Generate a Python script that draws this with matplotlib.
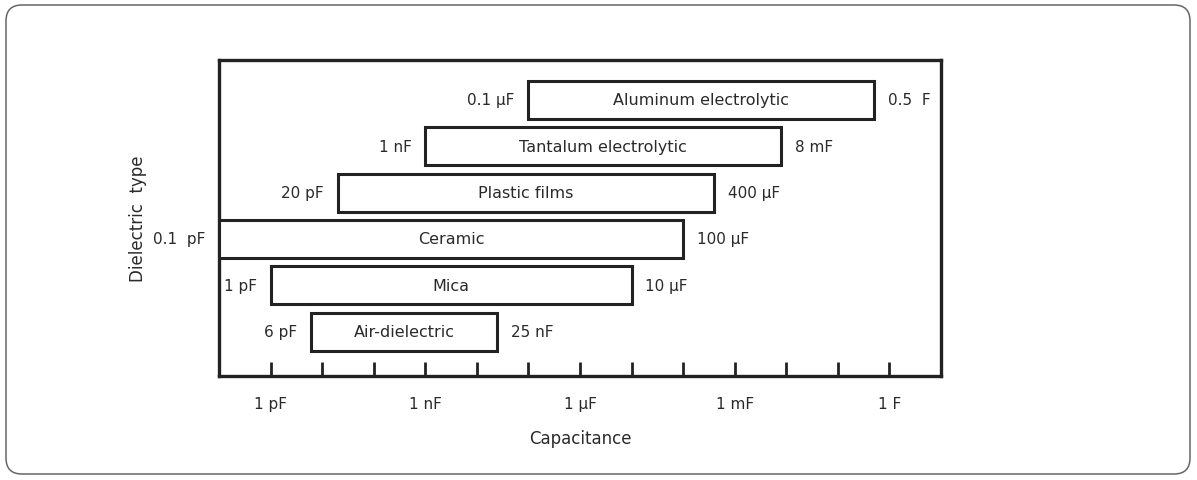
import matplotlib
matplotlib.use("Agg")
import matplotlib.pyplot as plt
from matplotlib.patches import FancyBboxPatch
from matplotlib import font_manager

# dielectric types, bottom to top
names = ["Air-dielectric", "Mica", "Ceramic", "Plastic films",
         "Tantalum electrolytic", "Aluminum electrolytic"]
low = [6e-12, 1e-12, 1e-13, 20e-12, 1e-9, 0.1e-6]
high = [25e-9, 10e-6, 100e-6, 400e-6, 8e-3, 0.5]
low_txt = ["6 pF", "1 pF", "0.1  pF", "20 pF", "1 nF", "0.1 \u00b5F"]
high_txt = ["25 nF", "10 \u00b5F", "100 \u00b5F", "400 \u00b5F", "8 mF", "0.5  F"]

tick_vals = [1e-12, 1e-9, 1e-6, 1e-3, 1]
tick_txt = ["1 pF", "1 nF", "1 \u00b5F", "1 mF", "1 F"]

names_installed = {f.name for f in font_manager.fontManager.ttflist}
fam = "Liberation Sans Narrow" if "Liberation Sans Narrow" in names_installed else "DejaVu Sans"
plt.rcParams["font.family"] = [fam, "DejaVu Sans"]
plt.rcParams["font.size"] = 11
ink = "#222222"
txt = "#2a2a2a"

fig = plt.figure(figsize=(11.97, 4.81), dpi=100)
ax = fig.add_axes([0.183, 0.216, 0.603, 0.657])

# rounded frame around everything (inch units)
frame = FancyBboxPatch((0.06, 0.06), 11.84, 4.69,
                       boxstyle="round,pad=0,rounding_size=0.16",
                       transform=fig.dpi_scale_trans, fill=False,
                       edgecolor="#666666", linewidth=1.1)
fig.patches.append(frame)

bar_h = 0.82
for i, nm in enumerate(names):
    ax.barh(i, high[i] - low[i], left=low[i], height=bar_h,
            facecolor="white", edgecolor=ink, linewidth=2.2, zorder=3)
    ax.text((low[i] * high[i]) ** 0.5, i, nm, ha="center", va="center",
            color=txt, fontsize=11.5, zorder=4)
    ax.annotate(low_txt[i], (low[i], i), xytext=(-10, 0),
                textcoords="offset points", ha="right", va="center",
                color=txt, fontsize=11, annotation_clip=False)
    ax.annotate(high_txt[i], (high[i], i), xytext=(10, 0),
                textcoords="offset points", ha="left", va="center",
                color=txt, fontsize=11)

ax.set_xscale("log")
ax.set_xlim(1e-13, 10)
ax.set_ylim(-0.96, 5.86)
ax.set_yticks([])

minor = [10.0 ** k for k in range(-12, 1)]
ax.set_xticks(minor, minor=True)
ax.set_xticks(tick_vals)
ax.set_xticklabels(tick_txt, color=txt)
ax.xaxis.set_minor_formatter(matplotlib.ticker.NullFormatter())
ax.tick_params(axis="x", which="both", direction="in", length=10,
               width=2, color=ink, pad=14)

for s in ax.spines.values():
    s.set_linewidth(2.4)
    s.set_color(ink)

ax.set_xlabel("Capacitance", color=txt, fontsize=12, labelpad=13)
ax.set_ylabel("Dielectric  type", color=txt, fontsize=12, labelpad=52)

fig.savefig("out.png", dpi=100)
